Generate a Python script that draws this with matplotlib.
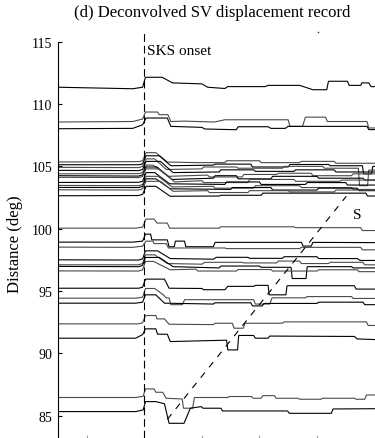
import matplotlib
matplotlib.use("Agg")
import matplotlib.pyplot as plt

plt.rcParams['font.family'] = ['Liberation Serif', 'DejaVu Serif']

# axes: time (s) relative to SKS onset, epicentral distance (deg)
xlim = (-15, 40)
ylim = (83.2, 116)
yticks = [85, 90, 95, 100, 105, 110, 115]
xticks = [-10, 0, 10, 20, 30]

sks_onset = 0.0
s_phase_t = [4.0, 35.1]
s_phase_d = [84.7, 102.6]
stray_dot = (30.1, 115.8)

# traces (time, distance)
tr111_t = [-15, -2, -0.3, 0.2, 3.1, 4.9, 10.0, 11.0, 14.0, 14.5, 21, 21.5, 27, 29.3, 31.7, 32.0, 35.3, 35.6, 37.6, 37.8, 39.0, 39.4, 40]
tr111_d = [111.35, 111.23, 111.35, 112.15, 112.15, 111.7, 111.62, 111.35, 111.25, 111.4, 111.4, 111.5, 111.5, 111.15, 111.15, 111.83, 111.83, 111.5, 111.5, 111.7, 111.7, 111.4, 111.4]

tr1085_t = [-15, -2, -0.3, 0.2, 2.3, 2.6, 4.1, 4.6, 7.0, 12.2, 14.0, 25.0, 25.3, 27.5, 28.0, 31.5, 31.8, 38.7, 39.0, 40]
tr1085_d = [108.56, 108.6, 108.8, 109.36, 109.36, 109.15, 109.15, 108.6, 108.63, 108.56, 108.74, 108.74, 108.21, 108.21, 108.95, 108.95, 108.6, 108.6, 108.08, 108.08]

tr1080_t = [-15, -2, -0.3, 0.3, 4.0, 4.6, 10.0, 10.5, 16.0, 16.3, 21.5, 22.0, 24.5, 25.0, 38.7, 39.0, 40]
tr1080_d = [108.02, 108.05, 108.34, 108.88, 108.88, 108.21, 108.13, 108.0, 107.94, 108.18, 108.18, 108.05, 108.05, 108.21, 108.21, 107.95, 107.95]

tr1054_t = [-15, -1, -0.3, 0.3, 2.0, 4.0, 9.0, 14.0, 14.3, 20.0, 20.3, 27.0, 27.3, 33.0, 33.3, 40]
tr1054_d = [105.35, 105.38, 105.45, 106.1, 106.1, 105.35, 105.3, 105.3, 105.45, 105.45, 105.3, 105.3, 105.4, 105.4, 105.25, 105.25]

tr1051_t = [-15, -1, -0.3, 0.3, 2.6, 4.6, 12.0, 12.3, 18.5, 18.8, 25.0, 25.3, 32.0, 32.3, 37.9, 38.1, 39.5, 39.7, 40]
tr1051_d = [105.13, 105.13, 105.2, 105.85, 105.85, 105.05, 105.1, 105.18, 105.18, 104.95, 104.95, 105.15, 105.15, 105.05, 105.05, 104.4, 104.4, 105.0, 105.0]

tr1049_t = [-15, -1, -0.3, 0.3, 1.8, 3.8, 10.0, 10.3, 16.0, 16.3, 24.0, 24.3, 31.0, 31.3, 37.2, 37.4, 38.8, 39.0, 40]
tr1049_d = [104.92, 104.9, 105.0, 105.6, 105.6, 104.75, 104.8, 104.95, 104.95, 104.85, 104.85, 105.0, 105.0, 104.85, 104.85, 103.45, 103.45, 104.7, 104.7]

tr1047_t = [-15, -1, -0.3, 0.3, 2.8, 5.0, 13.0, 13.3, 19.0, 19.3, 26.0, 26.3, 33.0, 33.3, 40]
tr1047_d = [104.68, 104.66, 104.75, 105.4, 105.4, 104.5, 104.55, 104.72, 104.72, 104.6, 104.6, 104.72, 104.72, 104.55, 104.55]

tr1044_t = [-15, -1, -0.3, 0.3, 1.5, 4.2, 11.0, 11.3, 17.0, 17.3, 23.0, 23.3, 29.0, 29.3, 36.0, 36.3, 40]
tr1044_d = [104.4, 104.42, 104.5, 105.1, 105.1, 104.2, 104.3, 104.15, 104.15, 104.35, 104.35, 104.45, 104.45, 104.25, 104.25, 104.4, 104.4]

tr1042_t = [-15, -1, -0.3, 0.3, 2.2, 4.8, 12.0, 12.3, 16.0, 16.3, 22.0, 22.3, 30.0, 30.3, 38.0, 38.3, 40]
tr1042_d = [104.25, 104.22, 104.32, 104.95, 104.95, 103.95, 104.05, 104.25, 104.25, 104.0, 104.0, 104.2, 104.2, 104.05, 104.05, 103.9, 103.9]

tr1041_t = [-15, -1, -0.3, 0.3, 2.5, 5.3, 10.0, 10.3, 18.0, 18.3, 26.0, 26.3, 34.0, 34.3, 40]
tr1041_d = [104.12, 104.1, 104.2, 104.8, 104.8, 103.75, 103.85, 103.7, 103.7, 103.95, 103.95, 103.8, 103.8, 103.9, 103.9]

tr1037_t = [-15, -1, -0.3, 0.3, 1.8, 4.4, 14.0, 14.3, 20.0, 20.3, 28.0, 28.3, 35.0, 35.3, 40]
tr1037_d = [103.71, 103.72, 103.8, 104.5, 104.5, 103.6, 103.55, 103.75, 103.75, 103.55, 103.55, 103.7, 103.7, 103.5, 103.5]

tr1035_t = [-15, -1, -0.3, 0.3, 2.4, 4.8, 12.0, 12.3, 19.0, 19.3, 27.0, 27.3, 36.0, 36.3, 40]
tr1035_d = [103.47, 103.45, 103.55, 104.2, 104.2, 103.35, 103.4, 103.25, 103.25, 103.45, 103.45, 103.3, 103.3, 103.15, 103.15]

tr1033_t = [-15, -1, -0.3, 0.3, 2.0, 4.5, 15.0, 15.3, 22.0, 22.3, 30.0, 30.3, 37.0, 37.3, 40]
tr1033_d = [103.31, 103.3, 103.4, 104.0, 104.0, 103.2, 103.15, 103.3, 103.3, 103.1, 103.1, 103.25, 103.25, 103.05, 103.05]

tr1031_t = [-15, -1, -0.3, 0.3, 2.8, 5.0, 11.0, 11.3, 18.0, 18.3, 25.0, 25.3, 33.0, 33.3, 40]
tr1031_d = [103.12, 103.1, 103.2, 103.8, 103.8, 103.0, 103.05, 102.9, 102.9, 103.05, 103.05, 102.95, 102.95, 103.1, 103.1]

tr1026_t = [-15, -1, -0.3, 0.3, 2.0, 4.5, 13.0, 13.3, 20.3, 20.6, 38.5, 38.8, 40]
tr1026_d = [102.64, 102.66, 102.75, 103.4, 103.4, 102.6, 102.62, 102.68, 102.68, 102.85, 102.85, 102.62, 102.62]

tr1000_t = [-15, -1.5, -0.3, 0.3, 1.7, 2.2, 4.0, 4.4, 13.0, 13.3, 26.0, 26.3, 37.6, 37.9, 40]
tr1000_d = [100.04, 100.04, 100.12, 100.77, 100.77, 100.45, 100.45, 100.04, 100.04, 100.15, 100.15, 100.08, 100.08, 99.85, 99.85]

tr989_t = [-15, -2, -0.3, 0.2, 1.1, 1.3, 4.0, 4.3, 5.2, 5.4, 7.0, 7.2, 12.0, 12.3, 27.3, 27.6, 29.0, 29.3, 40]
tr989_d = [98.92, 98.92, 99.0, 99.56, 99.56, 99.1, 99.1, 98.55, 98.55, 99.0, 99.0, 98.55, 98.55, 98.9, 98.9, 98.6, 98.6, 98.9, 98.88]

tr985_t = [-15, -2, -0.3, 0.3, 1.5, 1.7, 3.8, 4.2, 14.0, 14.3, 27.0, 27.3, 37.6, 37.9, 40]
tr985_d = [98.52, 98.5, 98.6, 99.0, 99.0, 98.8, 98.8, 98.45, 98.45, 98.4, 98.4, 98.5, 98.5, 98.3, 98.3]

tr975_t = [-15, -1, -0.3, 0.2, 2.3, 4.5, 12.0, 12.5, 18.0, 18.3, 24.0, 24.3, 30.0, 30.3, 37.0, 37.5, 40]
tr975_d = [97.5, 97.48, 97.58, 98.22, 98.22, 97.6, 97.55, 97.7, 97.7, 97.62, 97.62, 97.75, 97.75, 97.6, 97.6, 97.45, 97.45]

tr971_t = [-15, -1, -0.3, 0.2, 1.8, 4.0, 10.0, 10.5, 17.0, 17.3, 23.0, 23.3, 27.0, 27.3, 32.0, 32.3, 38.0, 38.3, 40]
tr971_d = [97.1, 97.1, 97.2, 97.9, 97.9, 97.2, 97.15, 97.3, 97.3, 97.25, 97.25, 97.4, 97.4, 97.2, 97.2, 97.3, 97.3, 97.1, 97.1]

tr970_t = [-15, -1, -0.3, 0.2, 2.6, 5.0, 13.0, 13.3, 20.0, 20.3, 25.5, 25.7, 28.1, 28.3, 36.0, 36.3, 40]
tr970_d = [96.97, 96.95, 97.05, 97.69, 97.69, 96.95, 96.85, 97.0, 97.0, 96.9, 96.9, 96.0, 96.0, 96.95, 96.95, 96.85, 96.85]

tr966_t = [-15, -1, -0.3, 0.2, 1.6, 4.5, 9.0, 9.3, 16.0, 16.3, 22.0, 22.3, 30.0, 30.3, 37.0, 37.3, 40]
tr966_d = [96.61, 96.6, 96.7, 97.37, 97.37, 96.7, 96.75, 96.6, 96.6, 96.72, 96.72, 96.6, 96.6, 96.7, 96.7, 96.55, 96.55]

tr952_t = [-15, -1, -0.3, 0.2, 3.5, 4.3, 10.0, 10.3, 14.0, 14.5, 19.0, 19.3, 21.5, 21.7, 24.6, 24.8, 36.5, 36.8, 40]
tr952_d = [95.22, 95.22, 95.3, 95.95, 95.95, 95.22, 95.2, 95.1, 95.1, 95.37, 95.37, 95.45, 95.45, 94.69, 94.69, 95.42, 95.42, 95.15, 95.15]

tr944_t = [-15, -1.5, -0.3, 0.2, 1.8, 3.3, 3.8, 4.3, 4.6, 6.6, 7.0, 19.0, 19.3, 21.8, 22.2, 28.0, 28.3, 36.0, 36.3, 40]
tr944_d = [94.42, 94.42, 94.5, 95.2, 95.2, 94.69, 94.45, 94.45, 93.9, 93.9, 94.3, 94.3, 93.95, 93.95, 94.45, 94.45, 94.55, 94.55, 94.4, 94.4]

tr940_t = [-15, -1.5, -0.3, 0.2, 2.0, 3.5, 12.0, 12.3, 18.5, 18.8, 20.5, 20.8, 30.0, 30.3, 38.0, 38.3, 40]
tr940_d = [94.02, 94.02, 94.1, 94.69, 94.69, 94.02, 93.95, 94.05, 94.05, 93.8, 93.8, 94.0, 94.0, 94.1, 94.1, 93.9, 93.9]

tr924_t = [-15, -1, -0.3, 0.2, 2.0, 2.2, 3.5, 4.3, 12.0, 12.3, 15.3, 15.6, 17.2, 17.5, 24.0, 24.3, 38.6, 38.9, 40]
tr924_d = [92.36, 92.36, 92.45, 93.03, 93.03, 92.76, 92.76, 92.33, 92.3, 92.41, 92.41, 92.01, 92.01, 92.41, 92.41, 92.52, 92.52, 92.23, 92.23]

tr912_t = [-15, -1.5, -0.3, 0.2, 2.0, 2.3, 4.0, 4.5, 14.3, 14.5, 16.2, 16.4, 19.0, 19.3, 21.5, 21.8, 36.5, 37.0, 40]
tr912_d = [91.21, 91.21, 91.5, 91.96, 91.96, 91.53, 91.53, 90.94, 91.05, 90.27, 90.27, 91.43, 91.43, 91.21, 91.21, 91.38, 91.35, 91.15, 91.1]

tr864_t = [-15, -1.5, -0.2, 0.2, 1.7, 2.0, 3.2, 3.8, 6.6, 6.8, 8.4, 8.7, 14.5, 14.8, 18.6, 18.9, 20.3, 20.6, 22.6, 22.9, 26.7, 27.0, 30.7, 31.0, 36.5, 36.8, 38.3, 38.6, 40]
tr864_d = [86.45, 86.45, 86.55, 87.14, 87.14, 86.87, 86.87, 86.39, 86.33, 85.59, 85.59, 86.45, 86.45, 86.53, 86.53, 86.39, 86.39, 86.6, 86.6, 86.39, 86.39, 86.31, 86.31, 86.39, 86.39, 86.31, 86.31, 86.65, 86.65]

tr854_t = [-15, -1.5, -0.2, 0.2, 2.0, 3.5, 4.3, 6.9, 8.0, 9.9, 10.2, 13.3, 13.6, 24.9, 25.2, 32.5, 32.8, 40]
tr854_d = [85.32, 85.32, 85.45, 86.12, 86.12, 85.95, 84.38, 84.38, 85.59, 85.72, 85.59, 85.59, 85.37, 85.37, 85.18, 85.18, 85.53, 85.55]

traces = [
    (tr111_t, tr111_d), (tr1085_t, tr1085_d), (tr1080_t, tr1080_d),
    (tr1054_t, tr1054_d), (tr1051_t, tr1051_d), (tr1049_t, tr1049_d),
    (tr1047_t, tr1047_d), (tr1044_t, tr1044_d), (tr1042_t, tr1042_d),
    (tr1041_t, tr1041_d), (tr1037_t, tr1037_d), (tr1035_t, tr1035_d),
    (tr1033_t, tr1033_d), (tr1031_t, tr1031_d), (tr1026_t, tr1026_d),
    (tr1000_t, tr1000_d), (tr989_t, tr989_d), (tr985_t, tr985_d),
    (tr975_t, tr975_d), (tr971_t, tr971_d), (tr970_t, tr970_d),
    (tr966_t, tr966_d), (tr952_t, tr952_d), (tr944_t, tr944_d),
    (tr940_t, tr940_d), (tr924_t, tr924_d), (tr912_t, tr912_d),
    (tr864_t, tr864_d), (tr854_t, tr854_d),
]

fig = plt.figure(figsize=(3.75, 4.39), dpi=100)
ax = fig.add_axes([58 / 375, 0.0, 316.5 / 375, 408.7 / 439])

for i, (t, d) in enumerate(traces):
    col = '#000000' if i % 2 == 0 else '#4a4a4a'
    ax.plot(t, d, color=col, lw=0.8, solid_joinstyle='miter')

# SKS onset and S arrival
ax.plot([sks_onset, sks_onset], [ylim[0], 115.7], color='black', lw=0.8,
        ls=(0, (7, 3.5)), clip_on=False)
ax.plot(s_phase_t, s_phase_d, color='black', lw=0.8, ls=(0, (6, 6)))
ax.text(sks_onset + 0.5, 114.27, 'SKS onset', fontsize=11, ha='left', va='center')
ax.text(36.96, 101.17, 'S', fontsize=11, ha='center', va='center')
ax.plot([stray_dot[0]], [stray_dot[1]], 's', color='#333333', ms=1.0, mew=0,
        clip_on=False)

ax.set_xlim(*xlim)
ax.set_ylim(*ylim)
ax.set_yticks(yticks)
ax.set_xticks(xticks)
ax.set_xticklabels([])
for side in ['top', 'right', 'bottom']:
    ax.spines[side].set_visible(False)
ax.spines['left'].set_bounds(ylim[0], 115)
ax.spines['left'].set_linewidth(0.8)
ax.tick_params(axis='y', direction='in', length=3, width=0.8, labelsize=10, pad=4)
ax.tick_params(axis='x', direction='in', length=2.5, width=0.6, color='#888888')

fig.text(212 / 375, 1 - 13 / 439, '(d) Deconvolved SV displacement record',
         fontsize=12, ha='center', va='center')
fig.text(15 / 375, 1 - 244 / 439, 'Distance (deg)', fontsize=12, rotation=90,
         ha='center', va='center')

fig.savefig('out.png', dpi=100)
